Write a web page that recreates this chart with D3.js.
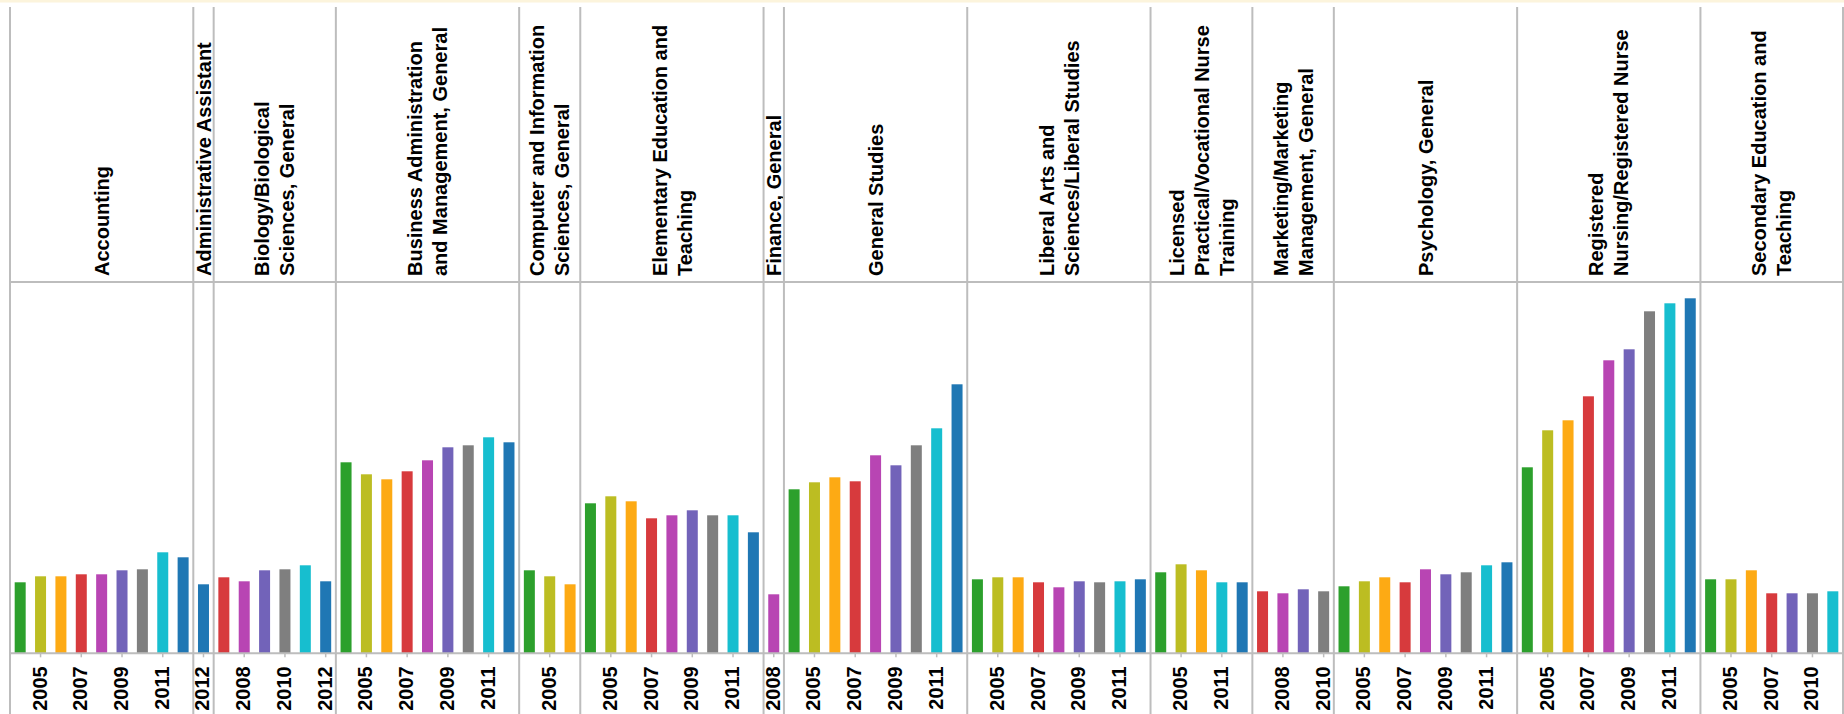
<!DOCTYPE html>
<html>
<head>
<meta charset="utf-8">
<script src="https://cdn.jsdelivr.net/npm/d3@7"></script>
<style>
  html, body { margin: 0; padding: 0; background: #ffffff; }
  svg { display: block; }
  text { font-family: Arial, "Liberation Sans", sans-serif; font-weight: bold; fill: #000; }
</style>
</head>
<body>
<svg id="chart" width="1844" height="714"></svg>
<script>
// ---------------- data ----------------
const majors = [
  "Accounting",
  "Administrative Assistant",
  "Biology/Biological Sciences, General",
  "Business Administration and Management, General",
  "Computer and Information Sciences, General",
  "Elementary Education and Teaching",
  "Finance, General",
  "General Studies",
  "Liberal Arts and Sciences/Liberal Studies",
  "Licensed Practical/Vocational Nurse Training",
  "Marketing/Marketing Management, General",
  "Psychology, General",
  "Registered Nursing/Registered Nurse",
  "Secondary Education and Teaching"
];

const majorYears = [
  [2004, 2005, 2006, 2007, 2008, 2009, 2010, 2011, 2012],
  [2012],
  [2007, 2008, 2009, 2010, 2011, 2012],
  [2004, 2005, 2006, 2007, 2008, 2009, 2010, 2011, 2012],
  [2004, 2005, 2006],
  [2004, 2005, 2006, 2007, 2008, 2009, 2010, 2011, 2012],
  [2008],
  [2004, 2005, 2006, 2007, 2008, 2009, 2010, 2011, 2012],
  [2004, 2005, 2006, 2007, 2008, 2009, 2010, 2011, 2012],
  [2004, 2005, 2006, 2011, 2012],
  [2007, 2008, 2009, 2010],
  [2004, 2005, 2006, 2007, 2008, 2009, 2010, 2011, 2012],
  [2004, 2005, 2006, 2007, 2008, 2009, 2010, 2011, 2012],
  [2004, 2005, 2006, 2007, 2009, 2010, 2011]
];

const majorValues = [
  [710, 770, 770, 790, 790, 830, 840, 1010, 960],
  [690],
  [760, 720, 830, 840, 880, 720],
  [1910, 1790, 1740, 1820, 1930, 2060, 2080, 2160, 2110],
  [830, 770, 690],
  [1500, 1570, 1520, 1350, 1380, 1430, 1380, 1380, 1210],
  [590],
  [1640, 1710, 1760, 1720, 1980, 1880, 2080, 2250, 2690],
  [740, 760, 760, 710, 660, 720, 710, 720, 740],
  [810, 890, 830, 710, 710],
  [620, 600, 640, 620],
  [670, 720, 760, 710, 840, 790, 810, 880, 910],
  [1860, 2230, 2330, 2570, 2930, 3040, 3420, 3500, 3550],
  [740, 740, 830, 600, 600, 600, 620]
];

const years = [2004, 2005, 2006, 2007, 2008, 2009, 2010, 2011, 2012];
const yearColors = ["#2ca02c", "#bcbd22", "#fdaa14", "#d73a3d", "#b845b3",
                    "#7263b9", "#7f7f7f", "#17becf", "#1f77b4"];
const yMax = 3713;

// ---------------- layout ----------------
const W = 1844, H = 714;
const plotLeft = 10, plotRight = 1843;
const headerTop = 7, headerBottom = 282, baseline = 653.3;
const gridColor = "#bdbdbd";

const svg = d3.select("#chart");

svg.append("rect").attr("x", 0).attr("y", 0).attr("width", W).attr("height", 2.5)
  .attr("fill", "#fcf4dc");

const color = d3.scaleOrdinal().domain(years).range(yearColors);
const y = d3.scaleLinear().domain([0, yMax]).range([baseline, headerBottom]);

const counts = majorYears.map(a => a.length);
const total = d3.sum(counts);
const slot = d3.scaleLinear().domain([0, total]).range([plotLeft, plotRight]);
const starts = d3.cumsum([0].concat(counts.slice(0, -1)));

const panels = majors.map((m, i) => {
  const x0 = slot(starts[i]);
  const x1 = slot(starts[i] + counts[i]);
  const xb = d3.scaleBand().domain(majorYears[i]).range([x0, x1])
    .paddingInner(0.46).paddingOuter(0.23);
  const data = majorYears[i].map((yr, j) => ({ year: yr, value: majorValues[i][j] }));
  return { name: m, x0, x1, xb, data, years: majorYears[i] };
});

// bars
const gBars = svg.append("g");
panels.forEach(p => {
  gBars.selectAll(null).data(p.data).join("rect")
    .attr("x", d => p.xb(d.year))
    .attr("width", p.xb.bandwidth())
    .attr("y", d => y(d.value))
    .attr("height", d => baseline - y(d.value))
    .attr("fill", d => color(d.year));
});

// axes per panel (ticks + year labels)
panels.forEach(p => {
  const tickYears = p.years.length === 1 ? p.years : p.years.filter((_, j) => j % 2 === 1);
  const axis = d3.axisBottom(p.xb).tickValues(tickYears).tickSize(4).tickSizeOuter(0).tickPadding(0);
  const g = svg.append("g").attr("transform", `translate(0,${baseline})`).call(axis);
  g.select(".domain").remove();
  g.selectAll(".tick line").attr("stroke", gridColor).attr("stroke-width", 1.5);
  g.selectAll(".tick text")
    .attr("transform", "rotate(-90)")
    .attr("x", -13)
    .attr("y", 0)
    .attr("dy", "0.3em")
    .attr("text-anchor", "end")
    .style("font-family", 'Arial, "Liberation Sans", sans-serif')
    .style("font-weight", "bold")
    .style("font-size", "20px")
    .attr("fill", "#000");
});

// header titles (rotated, wrapped)
const fontSize = 20, lineH = 25, maxLen = 262;
const measure = svg.append("text").style("font-size", fontSize + "px").attr("visibility", "hidden");
function wrap(str) {
  const words = str.split(" ");
  const lines = [];
  let cur = "";
  words.forEach(w => {
    const test = cur ? cur + " " + w : w;
    measure.text(test);
    if (cur && measure.node().getComputedTextLength() > maxLen) {
      lines.push(cur);
      cur = w;
    } else {
      cur = test;
    }
  });
  if (cur) lines.push(cur);
  return lines;
}

const gHead = svg.append("g");
panels.forEach(p => {
  const lines = wrap(p.name);
  const cx = (p.x0 + p.x1) / 2;
  const capH = fontSize * 0.716;
  const firstBase = cx - (lines.length - 1) * lineH / 2 + capH / 2;
  lines.forEach((ln, k) => {
    const bx = firstBase + k * lineH;
    gHead.append("text")
      .attr("transform", `translate(${bx},${headerBottom - 6}) rotate(-90)`)
      .attr("text-anchor", "start")
      .style("font-size", fontSize + "px")
      .text(ln);
  });
});
measure.remove();

// grid lines
const gGrid = svg.append("g").attr("stroke", gridColor).attr("stroke-width", 2);
const bounds = [plotLeft].concat(panels.map(p => p.x1));
gGrid.selectAll(null).data(bounds).join("line")
  .attr("x1", d => d).attr("x2", d => d)
  .attr("y1", headerTop).attr("y2", H);
gGrid.selectAll(null).data([headerBottom, baseline]).join("line")
  .attr("x1", plotLeft).attr("x2", plotRight)
  .attr("y1", d => d).attr("y2", d => d);
</script>
</body>
</html>
